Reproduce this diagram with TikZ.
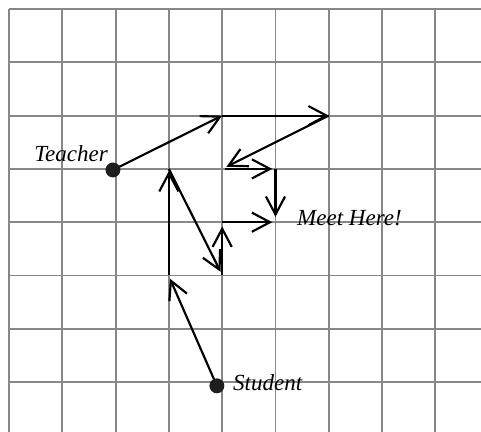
\documentclass[tikz,border=0pt]{standalone}
\usepackage{fontspec}
\setmainfont{Liberation Serif}
\usetikzlibrary{arrows.meta}
\definecolor{gridgray}{RGB}{135,135,135}
\definecolor{dotcol}{RGB}{30,30,30}
\begin{document}
\begin{tikzpicture}[x=1cm,y=1cm,
  gridline/.style={draw=gridgray, line width=1.05pt},
  route/.style={line width=1.15pt, black},
  arr/.style={route, -{Straight Barb[length=3.4mm,width=3.6mm]}},
  dot/.style={circle, fill=dotcol, inner sep=0pt, minimum size=2.8mm},
  lbl/.style={font=\fontsize{12.3}{14}\selectfont\itshape, inner sep=0pt, anchor=base west}
]
\useasboundingbox (-0.169,0.169) rectangle (8.856,-7.936);
\foreach \i in {0,...,8} \draw[gridline] (\i,0) -- (\i,-7.936);
\foreach \j in {0,...,7} \draw[gridline] (0,-\j) -- (8.856,-\j);

\coordinate (A) at (4,-2);
\coordinate (B) at (6,-2);
\coordinate (C) at (4.08,-2.96);
\coordinate (C0) at (4.05,-3);
\coordinate (D) at (4.94,-3);
\coordinate (D0) at (5,-3);
\coordinate (E) at (5,-3.9);
\coordinate (E2) at (4.94,-4);
\coordinate (F) at (4,-4.08);
\coordinate (F0) at (4,-4);
\coordinate (G) at (3.97,-4.93);
\coordinate (G0) at (4,-5);
\coordinate (H) at (3,-3.04);
\coordinate (H0) at (3,-3);
\coordinate (K) at (3.02,-5.06);
\coordinate (K0) at (3,-5);
\coordinate (Tc) at (1.95,-3.02);
\coordinate (Sc) at (3.9,-7.07);

\draw[arr] (Tc) -- (A);
\draw[arr] (A) -- (B);
\draw[arr] (B) -- (C);
\draw[arr] (C0) -- (D);
\draw[arr] (D0) -- (E);
\draw[arr] (Sc) -- (K);
\draw[arr] (K0) -- (H);
\draw[arr] (H0) -- (G);
\draw[arr] (G0) -- (F);
\draw[arr] (F0) -- (E2);

\node[dot] (T) at (Tc) {};
\node[dot] (S) at (Sc) {};

\node[lbl] (tl) at (0.47,-2.87) {Teacher};
\node[lbl] (ml) at (5.40,-4.07) {Meet Here!};
\node[lbl] (sl) at (4.20,-7.15) {Student};
\end{tikzpicture}
\end{document}
